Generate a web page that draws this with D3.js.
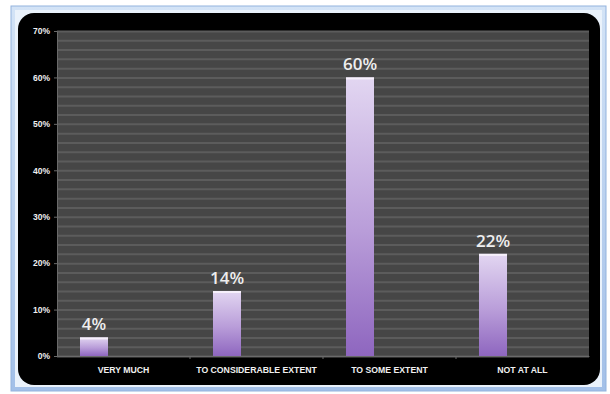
<!DOCTYPE html>
<html><head><meta charset="utf-8">
<script src="https://cdn.jsdelivr.net/npm/d3@7"></script>
<style>html,body{margin:0;padding:0;background:#fff;}svg{display:block;}</style>
</head><body>
<script>
const categories = ["VERY MUCH", "TO CONSIDERABLE EXTENT", "TO SOME EXTENT", "NOT AT ALL"];
const values = [4, 14, 60, 22];
const yTicks = [0, 10, 20, 30, 40, 50, 60, 70];
const minorTicks = d3.range(0, 71, 2);

const W = 610, H = 394;
const svg = d3.select("body").append("svg").attr("width", W).attr("height", H);
const defs = svg.append("defs");

const frameGrad = defs.append("linearGradient").attr("id", "frame").attr("x1", 0).attr("y1", 0).attr("x2", 0).attr("y2", 1);
frameGrad.append("stop").attr("offset", "0%").attr("stop-color", "#d3e3f6");
frameGrad.append("stop").attr("offset", "100%").attr("stop-color", "#a3c0e8");

const barGrad = defs.append("linearGradient").attr("id", "bar").attr("x1", 0).attr("y1", 0).attr("x2", 0).attr("y2", 1);
barGrad.append("stop").attr("offset", "0%").attr("stop-color", "#e2d6f1");
barGrad.append("stop").attr("offset", "55%").attr("stop-color", "#b99dd9");
barGrad.append("stop").attr("offset", "100%").attr("stop-color", "#8e66bf");

// outer frame
svg.append("rect").attr("x", 11).attr("y", 6).attr("width", 595).attr("height", 385)
  .attr("fill", "url(#frame)").attr("stroke", "#93b3de").attr("stroke-width", 1);
svg.append("rect").attr("x", 15).attr("y", 10).attr("width", 587).attr("height", 377).attr("fill", "#eaf2fb");
// black chart area
svg.append("rect").attr("x", 18).attr("y", 13).attr("width", 582).attr("height", 372).attr("rx", 16).attr("fill", "#000");

const plot = {left: 57, right: 589, top: 31, bottom: 356};
const x = d3.scaleBand().domain(categories).range([plot.left, plot.right]);
const y = d3.scaleLinear().domain([0, 70]).range([plot.bottom, plot.top]);

svg.append("rect").attr("x", plot.left).attr("y", plot.top).attr("width", plot.right - plot.left)
  .attr("height", plot.bottom - plot.top).attr("fill", "#464646");

svg.append("g").selectAll("line").data(minorTicks).join("line")
  .attr("x1", plot.left).attr("x2", plot.right)
  .attr("y1", d => y(d) + 0.5).attr("y2", d => y(d) + 0.5)
  .attr("stroke", "#5c5c5c").attr("stroke-width", 2);

// y axis
const yAxis = svg.append("g").attr("transform", `translate(${plot.left},0)`)
  .call(d3.axisLeft(y).tickValues(yTicks).tickFormat(d => d + "%").tickSize(3));
yAxis.select(".domain").attr("stroke", "#6a6a6a");
yAxis.selectAll(".tick line").attr("stroke", "#6a6a6a");
yAxis.selectAll("text").attr("fill", "#f0f0f0").attr("font-family", "Liberation Sans, Arial, sans-serif")
  .attr("font-size", 8.5).attr("font-weight", "bold").attr("x", -7);

// x axis
const xAxis = svg.append("g").attr("transform", `translate(0,${plot.bottom})`)
  .call(d3.axisBottom(x).tickSize(0).tickPadding(11));
xAxis.select(".domain").attr("stroke", "#6a6a6a");
xAxis.selectAll("text").attr("fill", "#f0f0f0").attr("font-family", "Liberation Sans Narrow, Liberation Sans, Arial, sans-serif")
  .attr("font-size", 8.7).attr("font-weight", "bold");
svg.append("g").selectAll("line").data(categories.slice(1)).join("line")
  .attr("x1", d => x(d)).attr("x2", d => x(d))
  .attr("y1", plot.bottom).attr("y2", plot.bottom + 3).attr("stroke", "#6a6a6a");

const barW = 28, barOff = 23;
const bars = svg.append("g");
bars.selectAll("rect.b").data(values).join("rect").attr("class", "b")
  .attr("x", (d, i) => x(categories[i]) + barOff)
  .attr("y", d => y(d)).attr("width", barW)
  .attr("height", d => y(0) - y(d)).attr("fill", "url(#bar)");
bars.selectAll("rect.cap").data(values).join("rect").attr("class", "cap")
  .attr("x", (d, i) => x(categories[i]) + barOff)
  .attr("y", d => y(d)).attr("width", barW).attr("height", 2).attr("fill", "#f6f0fb");

svg.append("g").selectAll("text").data(values).join("text")
  .attr("x", (d, i) => x(categories[i]) + barOff + barW / 2)
  .attr("y", d => y(d) - 7)
  .attr("text-anchor", "middle").attr("fill", "#eeeeee")
  .attr("font-family", "Open Sans, Liberation Sans, Arial, sans-serif")
  .attr("font-size", 17).attr("font-weight", "600")
  .text(d => d + "%");
</script>
</body></html>
